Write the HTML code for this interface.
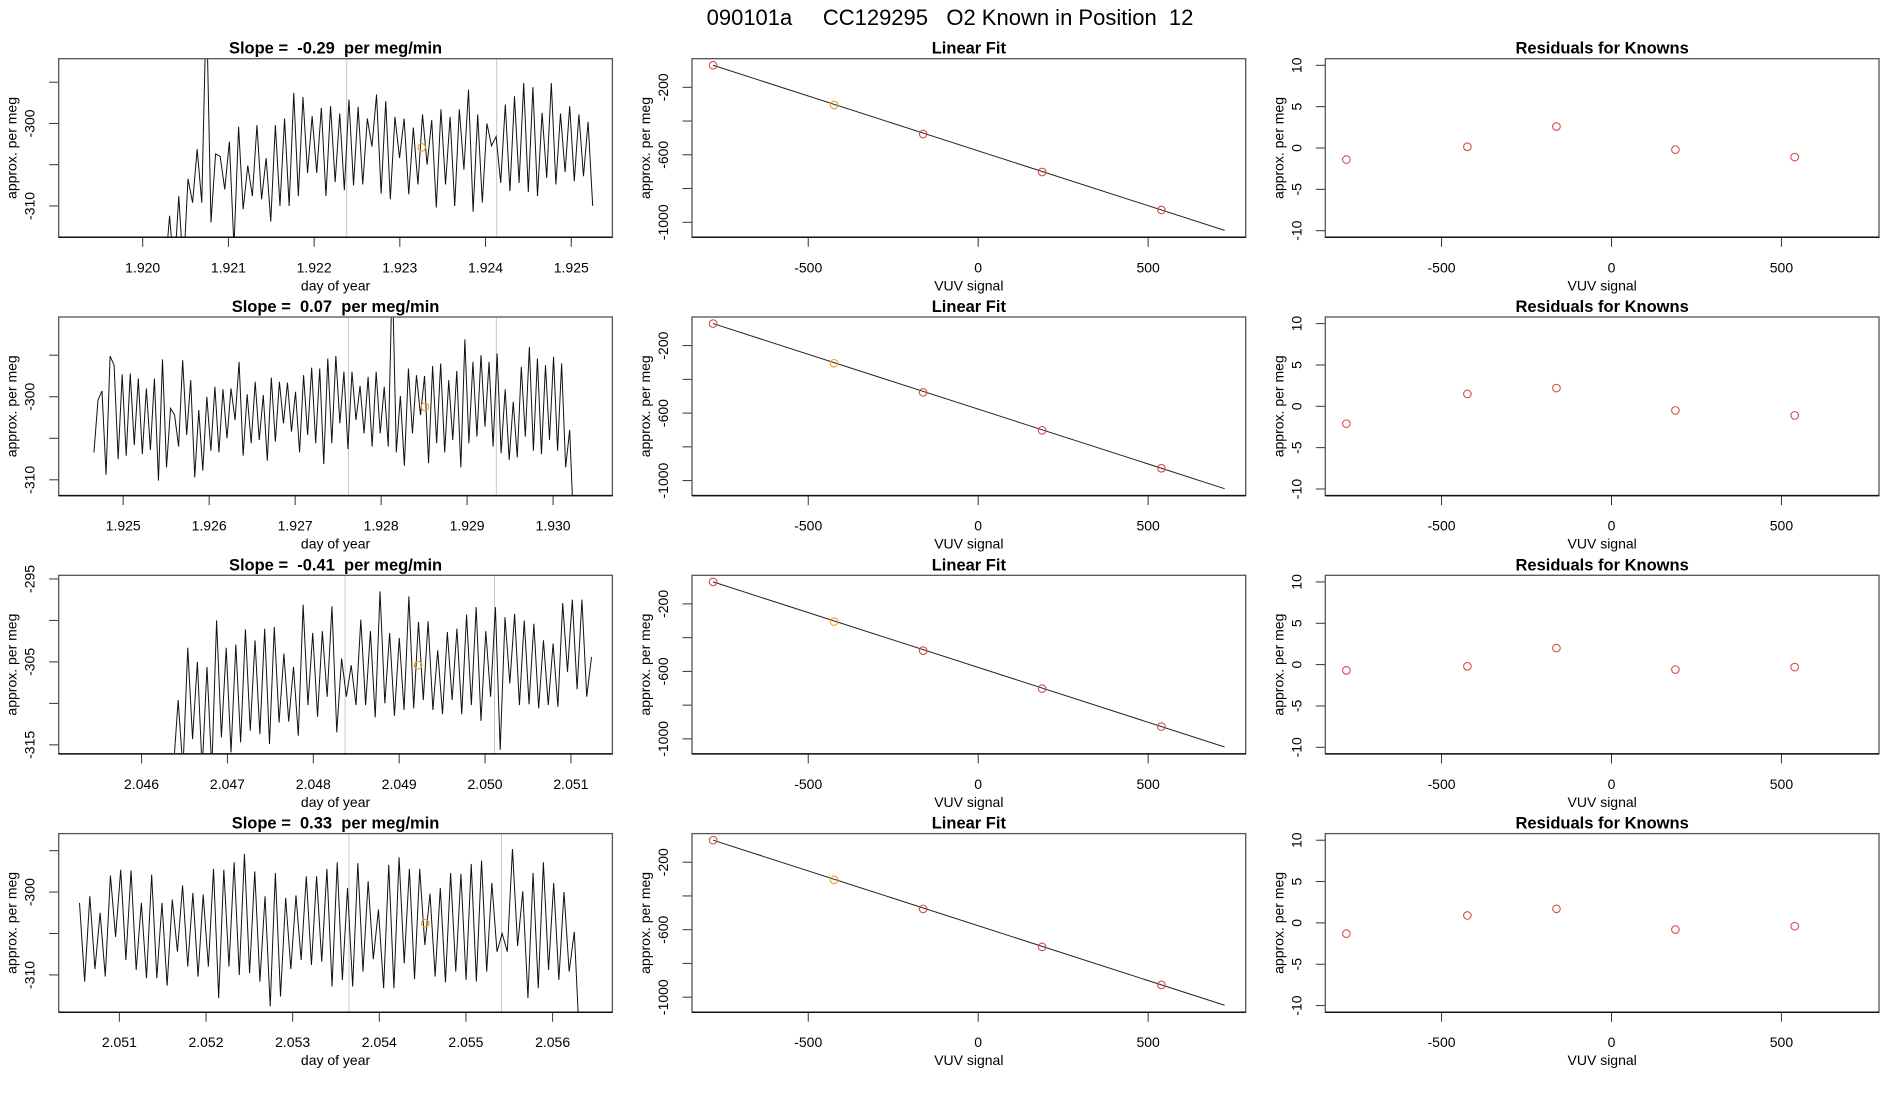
<!DOCTYPE html>
<html><head><meta charset="utf-8"><title>O2 Known in Position 12</title>
<style>
html,body{margin:0;padding:0;background:#fff;}
svg{display:block;font-family:"Liberation Sans",Arial,sans-serif;}
.tk{font-size:14px;fill:#000;}
.ttl{font-size:16.5px;font-weight:bold;fill:#000;white-space:pre;}
.lab{font-size:14px;fill:#000;}
</style></head>
<body>
<svg id="fig" width="1900" height="1100" viewBox="0 0 1900 1100" xmlns="http://www.w3.org/2000/svg">
<text x="950" y="25" text-anchor="middle" style="font-size:22px;white-space:pre" xml:space="preserve">090101a     CC129295   O2 Known in Position  12</text>
</svg>
<script>
// ---------------- data ----------------
const slopeLabels = ["-0.29", "0.07", "-0.41", "0.33"];
const tsStart = [1.92026, 1.92466, 2.04637, 2.05054];
const tsEnd = [1.92525, 1.93024, 2.05124, 2.05631];
const tsXlim = [[1.91902, 1.92548], [1.92425, 1.93069], [2.045035, 2.051483], [2.05030, 2.05669]];
const tsYlim = [[-313.8, -292.15], [-311.9, -290.4], [-316.09, -294.56], [-314.5, -292.94]];
const tsXticks = [[1.920,1.921,1.922,1.923,1.924,1.925],[1.925,1.926,1.927,1.928,1.929,1.930],[2.046,2.047,2.048,2.049,2.050,2.051],[2.051,2.052,2.053,2.054,2.055,2.056]];
const tsYticks = [[-295,-300,-305,-310],[-295,-300,-305,-310],[-295,-300,-305,-310,-315],[-295,-300,-305,-310]];
const tsYtickLabels = [["","-300","","-310"],["","-300","","-310"],["-295","","-305","","-315"],["","-300","","-310"]];
const grayLines = [[1.92238, 1.92413], [1.92762, 1.92934], [2.04837, 2.05011], [2.05365, 2.05541]];
const orangeX = [1.923254, 1.92851, 2.04922, 2.05453];
const orangeY = [-302.9, -301.2, -305.4, -303.75];
const series1 = [-318,-311.2,-318,-308.8,-318,-306.7,-309.6,-303.1,-309.6,-285,-312,-303.7,-304,-308,-302.2,-315,-300.4,-310.4,-305.1,-308.8,-300.2,-309.2,-304.2,-311.9,-300.2,-310,-299.4,-310,-296.3,-308.8,-296.8,-306,-299.1,-306,-298.1,-308.8,-297.9,-307.1,-298.8,-308.1,-297.1,-307.5,-298,-307.4,-299.4,-302.8,-296.5,-308.5,-297.3,-309.2,-299.2,-304.2,-299.4,-308.6,-300.5,-307.4,-298.9,-305,-299.6,-310.2,-298.3,-307.4,-299.2,-310,-298.3,-305.6,-295.9,-310.7,-298.9,-309.6,-300,-302.7,-301.6,-307.2,-297.7,-308.2,-296.7,-307.2,-295.1,-308.3,-295.6,-308.8,-298.7,-306.6,-295.1,-307.4,-298.8,-305.9,-297.9,-307,-298.9,-306.4,-299.8,-310];
const series2 = [-306.7,-300.4,-299.3,-309.4,-295.1,-296.2,-307.5,-297.3,-307.1,-297.2,-305.8,-297.8,-306.9,-299.0,-306.4,-297.8,-310.1,-295.5,-308.5,-301.4,-302.2,-306.0,-295.6,-304.6,-298.0,-309.7,-301.6,-308.9,-300.0,-306.5,-298.8,-306.7,-299.1,-305.0,-299.0,-302.8,-295.8,-307.1,-299.7,-305.6,-298.2,-305.2,-299.8,-307.7,-297.7,-305.4,-298.2,-303.2,-298.3,-304.2,-299.4,-306.7,-297.4,-304.6,-296.5,-305.6,-296.6,-308.1,-295.4,-305.6,-295.1,-303.2,-297.0,-306.3,-297.0,-302.8,-298.7,-304.4,-297.6,-306.0,-297.0,-304.4,-298.8,-306.0,-285,-306.7,-299.9,-308.3,-296.6,-304.4,-297.4,-302.2,-297.5,-308.0,-296.3,-305.6,-296.0,-306.7,-298.0,-305.2,-296.9,-308.5,-293.1,-305.6,-295.8,-304.8,-295.0,-303.6,-295.8,-306.0,-294.8,-306.8,-299.1,-307.6,-300.6,-307.3,-296.4,-304.8,-294.0,-306.5,-295.4,-306.9,-296.2,-305.2,-295.2,-306.5,-296.0,-308.5,-304.0,-316];
const series3 = [-318,-309.6,-318,-303.3,-314.3,-305.0,-318,-305.6,-318,-300.0,-314.1,-303.3,-315.9,-302.9,-314.7,-301.1,-313.3,-302.4,-313.7,-301.0,-314.9,-300.8,-312.3,-304.0,-312.2,-305.6,-313.9,-298.1,-310.2,-301.5,-311.6,-301.3,-309.2,-298.3,-313.5,-304.6,-309.2,-305.4,-310.2,-299.9,-310.2,-301.3,-311.7,-296.5,-310.0,-301.5,-311.5,-302.1,-310.8,-297.1,-310.6,-300.2,-309.6,-300.1,-310.8,-303.6,-311.3,-301.4,-309.6,-301.0,-311.3,-299.3,-310.2,-298.4,-312.1,-301.3,-309.2,-298.4,-315.6,-299.6,-307.6,-299.2,-310.2,-300.0,-310.1,-300.4,-310.6,-302.4,-310.2,-302.8,-310.4,-297.9,-306.2,-297.5,-308.3,-297.5,-309.2,-304.4];
const series4 = [-301.3,-310.8,-300.5,-309.3,-302.5,-310.2,-298.0,-305.4,-297.3,-308.2,-297.4,-309.4,-301.3,-310.4,-297.9,-310.4,-301.3,-311.3,-300.9,-307.2,-299.2,-309.0,-300.1,-310.2,-300.3,-309.0,-297.2,-312.8,-297.3,-309.0,-296.4,-310.0,-295.4,-309.8,-297.5,-310.8,-300.5,-313.8,-297.7,-312.6,-300.7,-309.3,-300.4,-308.2,-298.1,-308.8,-298.1,-308.4,-297.2,-311.4,-296.4,-310.6,-299.5,-311.4,-296.5,-309.6,-298.7,-308.1,-302.1,-311.6,-296.7,-311.6,-295.8,-308.6,-297.2,-310.5,-297.2,-306.4,-300.2,-310.2,-299.5,-310.9,-297.7,-309.6,-297.8,-310.6,-296.6,-310.8,-296.2,-309.6,-298.9,-307.2,-305.0,-307.2,-294.8,-306.5,-299.9,-312.8,-297.7,-311.6,-296.4,-309.4,-298.9,-310.6,-300.0,-309.6,-304.8,-318];
const tsSeries = [series1, series2, series3, series4];

const fitX = [-780, -424, -162, 188, 539];
const fitY = [-69.6, -305, -477, -702, -927];
const fitIsOrange = [false, true, false, false, false];
const fitLineX = [-780, 725];
const fitXlim = [-842, 787];
const fitYlim = [-1089, -30.6];
const fitXticks = [-500, 0, 500];
const fitYticks = [-200, -400, -600, -800, -1000];
const fitYtickLabels = ["-200", "", "-600", "", "-1000"];
const residYlim = [-10.8, 10.8];
const residYticks = [10, 5, 0, -5, -10];
const residRow1 = [-1.4, 0.15, 2.6, -0.2, -1.1];
const residRow2 = [-2.1, 1.5, 2.2, -0.5, -1.1];
const residRow3 = [-0.7, -0.2, 2.0, -0.6, -0.3];
const residRow4 = [-1.3, 0.9, 1.7, -0.8, -0.4];
const residRows = [residRow1, residRow2, residRow3, residRow4];

// ---------------- drawing ----------------
const NS = "http://www.w3.org/2000/svg";
const svg = document.getElementById("fig");
function mk(tag, attrs, parent) {
  const e = document.createElementNS(NS, tag);
  for (const k in attrs) e.setAttribute(k, attrs[k]);
  (parent || svg).appendChild(e);
  return e;
}
const PX0 = 58.7, PW = 553.7, PY0 = 58.7, PH = 178.6, COLP = 633.3, ROWP = 258.3;
const RED = "#d0504a", ORANGE = "#f0a020";

function makeScale(lim, a, b) { return v => a + (v - lim[0]) / (lim[1] - lim[0]) * (b - a); }

function frame(g, L, T, title, xticks, xfmt, xlab, yticks, ylabs, sx, sy, ylabText) {
  const t = mk("text", {x: L + PW/2, y: T - 5, "text-anchor": "middle", class: "ttl"}, g);
  t.setAttributeNS("http://www.w3.org/XML/1998/namespace", "xml:space", "preserve");
  
  
  t.textContent = title;
  xticks.forEach(v => {
    const x = sx(v);
    mk("line", {x1: x, x2: x, y1: T + PH, y2: T + PH + 9.5, stroke: "#333", "stroke-width": 1}, g);
    const tl = mk("text", {x: x, y: T + PH + 35, "text-anchor": "middle", class: "tk"}, g);
    
    
    tl.textContent = xfmt(v);
  });
  const xl = mk("text", {x: L + PW/2, y: T + PH + 53, "text-anchor": "middle", class: "lab"}, g);
  
  
  xl.textContent = xlab;
  yticks.forEach((v, i) => {
    const y = sy(v);
    mk("line", {x1: L - 9.5, x2: L, y1: y, y2: y, stroke: "#333", "stroke-width": 1}, g);
    if (ylabs[i]) {
      const tl = mk("text", {x: 0, y: 0, "text-anchor": "middle", class: "tk", transform: `translate(${L - 24},${y}) rotate(-90)`}, g);
      
      
      tl.textContent = ylabs[i];
    }
  });
  const yl = mk("text", {x: 0, y: 0, "text-anchor": "middle", class: "lab", transform: `translate(${L - 42},${T + PH/2}) rotate(-90)`}, g);
  
  
  yl.textContent = ylabText;
}
function box(g, L, T) {
  const r = mk("rect", {x: L, y: T, width: PW, height: PH, fill: "none", stroke: "#555", "stroke-width": 1.3}, g);
  
  
  mk("line", {x1: L, x2: L + PW, y1: T + PH, y2: T + PH, stroke: "#111", "stroke-width": 1.5}, g);
}

for (let r = 0; r < 4; r++) {
  const T = PY0 + r * ROWP;
  {
    const L = PX0;
    const g = mk("g", {});
    
    
    const sx = makeScale(tsXlim[r], L, L + PW);
    const sy = makeScale(tsYlim[r], T + PH, T);
    frame(g, L, T, "Slope =  " + slopeLabels[r] + "  per meg/min", tsXticks[r], v => v.toFixed(3), "day of year",
      tsYticks[r], tsYtickLabels[r], sx, sy, "approx. per meg");
    const cp = mk("clipPath", {id: "clip" + r}, g);
    mk("rect", {x: L, y: T, width: PW, height: PH}, cp);
    const gl = mk("g", {"clip-path": `url(#clip${r})`}, g);
    grayLines[r].forEach(v => {
      const ln = mk("line", {x1: sx(v), x2: sx(v), y1: T, y2: T + PH, stroke: "#c8c8c8", "stroke-width": 1}, gl);
      
      
    });
    const s = tsSeries[r], n = s.length;
    const pts = s.map((v, i) => {
      const t = tsStart[r] + (tsEnd[r] - tsStart[r]) * i / (n - 1);
      return sx(t).toFixed(2) + "," + sy(v).toFixed(2);
    }).join(" ");
    const pl = mk("polyline", {points: pts, fill: "none", stroke: "#111", "stroke-width": 1}, gl);
    
    
    const oc = mk("circle", {cx: sx(orangeX[r]), cy: sy(orangeY[r]), r: 3.8, fill: "none", stroke: ORANGE, "stroke-width": 1.1}, g);
    
    
    box(g, L, T);
  }
  {
    const L = PX0 + COLP;
    const g = mk("g", {});
    
    
    const sx = makeScale(fitXlim, L, L + PW);
    const sy = makeScale(fitYlim, T + PH, T);
    frame(g, L, T, "Linear Fit", fitXticks, v => String(v), "VUV signal", fitYticks, fitYtickLabels, sx, sy, "approx. per meg");
    const slope = (fitY[4] - fitY[0]) / (fitX[4] - fitX[0]);
    const yAt = x => fitY[0] + slope * (x - fitX[0]);
    const fl = mk("line", {x1: sx(fitLineX[0]), y1: sy(yAt(fitLineX[0])), x2: sx(fitLineX[1]), y2: sy(yAt(fitLineX[1])), stroke: "#222", "stroke-width": 1}, g);
    
    
    fitX.forEach((x, i) => {
      const c = mk("circle", {cx: sx(x), cy: sy(fitY[i]), r: 3.8, fill: "none", stroke: fitIsOrange[i] ? ORANGE : RED, "stroke-width": 1.1}, g);
      
      
    });
    box(g, L, T);
  }
  {
    const L = PX0 + 2 * COLP;
    const g = mk("g", {});
    
    
    const sx = makeScale(fitXlim, L, L + PW);
    const sy = makeScale(residYlim, T + PH, T);
    frame(g, L, T, "Residuals for Knowns", fitXticks, v => String(v), "VUV signal", residYticks, residYticks.map(String), sx, sy, "approx. per meg");
    residRows[r].forEach((v, i) => {
      const c = mk("circle", {cx: sx(fitX[i]), cy: sy(v), r: 3.8, fill: "none", stroke: RED, "stroke-width": 1.1}, g);
      
      
    });
    box(g, L, T);
  }
}
</script>
</body></html>
